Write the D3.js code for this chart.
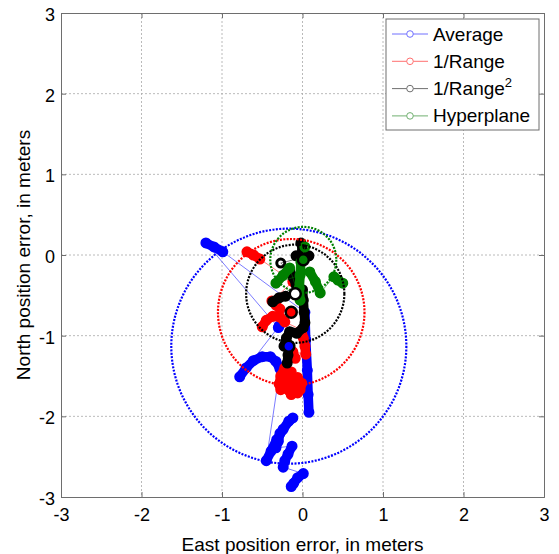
<!DOCTYPE html>
<html>
<head>
<meta charset="utf-8">
<script src="https://cdn.jsdelivr.net/npm/d3@7"></script>
<style>
html,body{margin:0;padding:0;background:#fff;}
svg{display:block;font-family:"Liberation Sans",Arial,Helvetica,sans-serif;}
</style>
</head>
<body>
<svg id="chart" width="559" height="554"></svg>
<script>
// ---- data (metres) ----
const xTicks = [-3,-2,-1,0,1,2,3];
const yTicks = [-3,-2,-1,0,1,2,3];
const seriesNames = ["Average","1/Range","1/Range²","Hyperplane"];
const seriesColors = ["#0000ff","#ff0000","#000000","#008000"];

// each series: list of runs (dense bursts of fixes), in time order
const averageRuns = [
  [[0.08,-1.95],[0.07,-1.73],[0.06,-1.43],[0.04,-1.05],[0.03,-0.71]],
  [[-0.99,0.04],[-1.10,0.10],[-1.20,0.15]],
  [[-0.30,-0.90],[-0.29,-0.88]],
  [[-0.78,-1.51],[-0.70,-1.40],[-0.61,-1.31],[-0.50,-1.26],[-0.40,-1.26],[-0.33,-1.32],[-0.28,-1.41]],
  [[-0.45,-2.55],[-0.39,-2.43],[-0.32,-2.29],[-0.24,-2.16],[-0.17,-2.06],[-0.12,-2.02]],
  [[-0.28,-2.21],[-0.30,-2.31],[-0.33,-2.39]],
  [[-0.13,-2.37],[-0.18,-2.47],[-0.22,-2.55],[-0.24,-2.63]],
  [[0.01,-2.71],[-0.06,-2.76],[-0.11,-2.83],[-0.14,-2.87]]
];
const rangeRuns = [
  [[-0.69,0.04],[-0.61,0.00],[-0.53,-0.05]],
  [[-0.12,-0.33]],
  [[-0.38,-0.57],[-0.33,-0.62],[-0.28,-0.67]],
  [[-0.50,-0.89],[-0.45,-0.81],[-0.37,-0.76],[-0.28,-0.77],[-0.22,-0.83]],
  [[-0.01,-0.93],[0.01,-1.03],[0.03,-1.13],[0.04,-1.23]],
  [[-0.12,-1.20],[-0.09,-1.28]],
  [[-0.22,-1.40],[-0.27,-1.50],[-0.29,-1.60],[-0.27,-1.67]],
  [[-0.14,-1.45],[-0.17,-1.56],[-0.18,-1.67],[-0.14,-1.73]],
  [[-0.06,-1.52],[-0.08,-1.62],[-0.06,-1.71]],
  [[-0.01,-1.59],[-0.03,-1.67]]
];
const range2Runs = [
  [[-0.02,0.15],[0.00,0.06]],
  [[-0.08,-0.01],[0.08,-0.01]],
  [[-0.27,-0.10]],
  [[-0.16,-0.19],[-0.12,-0.27],[-0.08,-0.37]],
  [[-0.37,-0.58],[-0.29,-0.53],[-0.21,-0.51]],
  [[0.00,-0.43],[0.01,-0.56],[0.02,-0.71],[0.03,-0.84]],
  [[0.01,-0.90],[-0.07,-0.97],[-0.16,-0.95],[-0.20,-1.03],[-0.23,-1.13]],
  [[-0.17,-1.14],[-0.18,-1.24],[-0.19,-1.34]]
];
const hyperRuns = [
  [[0.03,0.10]],
  [[-0.02,-0.09],[-0.03,-0.25],[-0.04,-0.41],[-0.03,-0.56]],
  [[-0.16,-0.16],[-0.24,-0.25],[-0.33,-0.35]],
  [[0.09,-0.21],[0.16,-0.33],[0.22,-0.47]],
  [[0.39,-0.27],[0.44,-0.31],[0.50,-0.35]]
];
const allRuns = [averageRuns, rangeRuns, range2Runs, hyperRuns];

// mean position and radius of the dispersion circle per method
const centerX = [-0.17,-0.14,-0.09,0.01];
const centerY = [-1.13,-0.71,-0.48,-0.06];
const radii   = [1.46,0.91,0.61,0.41];
const centerFill = ["#0000ff","#ff0000","#ffffff","#008000"];

// ---- chart ----
const svg = d3.select("#chart");
const L = 61, R = 544, T = 13, B = 497;
const x = d3.scaleLinear().domain([-3,3]).range([L,R]);
const y = d3.scaleLinear().domain([-3,3]).range([B,T]);

// grid
const grid = svg.append("g");
xTicks.slice(1,-1).forEach(v=>{
  grid.append("line").attr("x1",x(v)).attr("x2",x(v)).attr("y1",T).attr("y2",B)
    .attr("stroke","#a8a8a8").attr("stroke-width",0.8).attr("stroke-dasharray","2,2");
});
yTicks.slice(1,-1).forEach(v=>{
  grid.append("line").attr("y1",y(v)).attr("y2",y(v)).attr("x1",L).attr("x2",R)
    .attr("stroke","#a8a8a8").attr("stroke-width",0.8).attr("stroke-dasharray","2,2");
});

// axes
const axB = svg.append("g").attr("transform",`translate(0,${B})`)
  .call(d3.axisBottom(x).tickValues(xTicks).tickSize(-5).tickPadding(11).tickFormat(d3.format("d")));
const axL = svg.append("g").attr("transform",`translate(${L},0)`)
  .call(d3.axisLeft(y).tickValues(yTicks).tickSize(-5).tickPadding(6).tickFormat(d3.format("d")));
const axT = svg.append("g").attr("transform",`translate(0,${T})`)
  .call(d3.axisTop(x).tickValues(xTicks).tickSize(-5).tickFormat(""));
const axR = svg.append("g").attr("transform",`translate(${R},0)`)
  .call(d3.axisRight(y).tickValues(yTicks).tickSize(-5).tickFormat(""));
[axB,axL,axT,axR].forEach(a=>{
  a.selectAll("path").attr("stroke","#6e6e6e").attr("stroke-width",1);
  a.selectAll("line").attr("stroke","#6e6e6e");
  a.selectAll("text").attr("font-size",18).attr("fill","#000")
    .attr("font-family","'Liberation Sans',Arial,sans-serif");
});
axB.selectAll("text").text(d=>d<0?"-"+Math.abs(d):d);
axL.selectAll("text").text(d=>d<0?"-"+Math.abs(d):d).attr("dy","0.42em");

// labels
svg.append("text").attr("x",(L+R)/2).attr("y",551).attr("text-anchor","middle")
  .attr("font-size",19).text("East position error, in meters");
svg.append("text").attr("transform",`translate(30,${(T+B)/2}) rotate(-90)`).attr("text-anchor","middle")
  .attr("font-size",19).text("North position error, in meters");

// series
const plot = svg.append("g");
const line = d3.line().x(d=>x(d[0])).y(d=>y(d[1]));
allRuns.forEach((runs,i)=>{
  const g = plot.append("g");
  const c = seriesColors[i];
  g.append("path").attr("d",line(runs.flat())).attr("fill","none")
    .attr("stroke",c).attr("stroke-width",0.8).attr("stroke-opacity",0.65);
  runs.filter(r=>r.length>1).forEach(r=>{
    g.append("path").attr("d",line(r)).attr("fill","none").attr("stroke",c)
      .attr("stroke-width",9.5).attr("stroke-linecap","round").attr("stroke-linejoin","round");
  });
  g.selectAll("circle.m").data(runs.flat()).join("circle").attr("class","m")
    .attr("cx",d=>x(d[0])).attr("cy",d=>y(d[1])).attr("r",4)
    .attr("fill","none").attr("stroke",c).attr("stroke-width",3);
});

// dispersion circles
seriesColors.forEach((c,i)=>{
  plot.append("circle").attr("cx",x(centerX[i])).attr("cy",y(centerY[i]))
    .attr("r",x(radii[i])-x(0)).attr("fill","none").attr("stroke",c)
    .attr("stroke-width",2.2).attr("stroke-dasharray","2,1.4");
});
// mean markers
seriesColors.forEach((c,i)=>{
  plot.append("circle").attr("cx",x(centerX[i])).attr("cy",y(centerY[i]))
    .attr("r",5.5).attr("fill",centerFill[i]).attr("stroke","#000").attr("stroke-width",2.5);
});

// legend
const lg = svg.append("g");
lg.append("rect").attr("x",386).attr("y",19).attr("width",153).attr("height",111)
  .attr("fill","#fff").attr("stroke","#6e6e6e").attr("stroke-width",1);
const legendColors = ["#7070ff","#ff7070","#707070","#70b070"];
seriesNames.forEach((n,i)=>{
  const yy = 34 + i*27.3;
  lg.append("line").attr("x1",392).attr("x2",428).attr("y1",yy).attr("y2",yy)
    .attr("stroke",legendColors[i]).attr("stroke-width",1);
  lg.append("circle").attr("cx",410).attr("cy",yy).attr("r",3.3)
    .attr("fill","#fff").attr("stroke",legendColors[i]).attr("stroke-width",1);
  const t = lg.append("text").attr("x",433).attr("y",yy+6.5).attr("font-size",19);
  if(n.endsWith("²")){
    t.append("tspan").text(n.slice(0,-1));
    t.append("tspan").attr("dy",-8).attr("font-size",13).text("2");
  } else t.text(n);
});
</script>
</body>
</html>
